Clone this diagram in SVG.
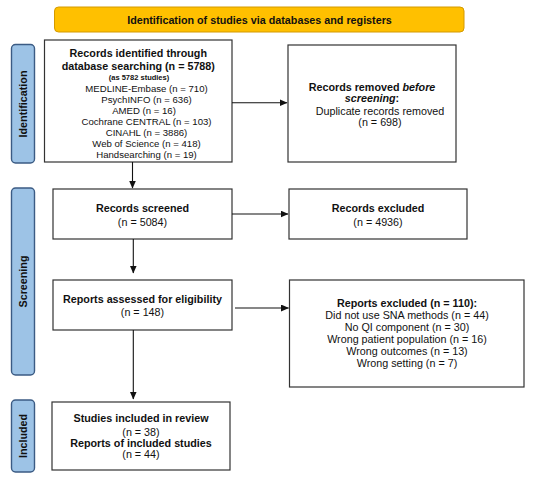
<svg xmlns="http://www.w3.org/2000/svg" width="538" height="481" viewBox="0 0 538 481">
<defs>
<marker id="ah" markerUnits="userSpaceOnUse" markerWidth="8" markerHeight="7" refX="7.5" refY="3.5" orient="auto">
<path d="M0,0 L8,3.5 L0,7 z" fill="#111"/>
</marker>
<style>
text{font-family:"Liberation Sans",Arial,sans-serif;fill:#111;font-size:10.75px;text-anchor:middle}
.b{font-weight:bold}
.s{font-size:9.6px}
.box{fill:#fff;stroke:#333;stroke-width:1.2}
.side{fill:#9DC3E6;stroke:#3B5B84;stroke-width:1.4}
.hdr{fill:#FFC000;stroke:#D49A00;stroke-width:1}
.conn{stroke:#111;stroke-width:1.1;fill:none;marker-end:url(#ah)}
</style>
</defs>
<rect width="538" height="481" fill="#fff"/>
<g id="header">
<rect class="hdr" x="54.5" y="7" width="409.5" height="25" rx="4"/>
<text class="b" x="259.5" y="24">Identification of studies via databases and registers</text>
</g>
<g id="label-identification">
<rect class="side" x="11.5" y="44.5" width="23" height="118.5" rx="4"/>
<text class="b" transform="translate(23,104) rotate(-90)" x="0" y="3.8">Identification</text>
</g>
<g id="label-screening">
<rect class="side" x="11.5" y="188" width="23" height="187" rx="4"/>
<text class="b" transform="translate(23,281.5) rotate(-90)" x="0" y="3.8">Screening</text>
</g>
<g id="label-included">
<rect class="side" x="11.5" y="400" width="23" height="72" rx="4"/>
<text class="b" transform="translate(23,436) rotate(-90)" x="0" y="3.8">Included</text>
</g>
<g id="identified">
<rect class="box" x="44.5" y="40" width="187.5" height="122"/>
<text class="b" x="138.3" y="56.8">Records identified through</text>
<text class="b" x="138.3" y="69.5">database searching (n = 5788)</text>
<text class="b" x="139" y="79.5" style="font-size:7.5px">(as 5782 studies)</text>
<text class="s" x="146.5" y="91.5">MEDLINE-Embase (n = 710)</text>
<text class="s" x="146.5" y="102.5">PsychINFO (n = 636)</text>
<text class="s" x="144" y="113.5">AMED (n = 16)</text>
<text class="s" x="146.5" y="124.5">Cochrane CENTRAL (n = 103)</text>
<text class="s" x="146.5" y="135.5">CINAHL (n = 3886)</text>
<text class="s" x="146.5" y="146.5">Web of Science (n = 418)</text>
<text class="s" x="146.5" y="157.5">Handsearching (n = 19)</text>
</g>
<g id="removed">
<rect class="box" x="288" y="45" width="168" height="117"/>
<text class="b" x="372" y="90.5">Records removed <tspan font-style="italic">before</tspan></text>
<text class="b" x="372" y="102"><tspan font-style="italic">screening</tspan>:</text>
<text x="380" y="114.7">Duplicate records removed</text>
<text x="380" y="125.5">(n = 698)</text>
</g>
<g id="screened">
<rect class="box" x="53" y="189" width="179" height="50"/>
<text class="b" x="142.5" y="212">Records screened</text>
<text x="142.5" y="225.5">(n = 5084)</text>
</g>
<g id="excluded">
<rect class="box" x="289" y="189" width="178" height="50"/>
<text class="b" x="378" y="212">Records excluded</text>
<text x="378" y="225.5">(n = 4936)</text>
</g>
<g id="assessed">
<rect class="box" x="53" y="280" width="179" height="50"/>
<text class="b" x="142.5" y="303">Reports assessed for eligibility</text>
<text x="142.5" y="316">(n = 148)</text>
</g>
<g id="reports-excluded">
<rect class="box" x="289.5" y="280" width="234.5" height="107"/>
<text class="b" x="407" y="307">Reports excluded (n = 110):</text>
<text x="407" y="319">Did not use SNA methods (n = 44)</text>
<text x="407" y="331">No QI component (n = 30)</text>
<text x="407" y="343.3">Wrong patient population (n = 16)</text>
<text x="407" y="355.3">Wrong outcomes (n = 13)</text>
<text x="407" y="367">Wrong setting (n = 7)</text>
</g>
<g id="included">
<rect class="box" x="52" y="402" width="178" height="68"/>
<text class="b" x="141" y="422">Studies included in review</text>
<text x="141" y="435.5">(n = 38)</text>
<text class="b" x="141" y="446.5">Reports of included studies</text>
<text x="141" y="458">(n = 44)</text>
</g>
<g id="connectors">
<line class="conn" x1="232" y1="102.7" x2="287" y2="102.7"/>
<line class="conn" x1="132.5" y1="162" x2="132.5" y2="188"/>
<line class="conn" x1="232" y1="214" x2="288" y2="214"/>
<line class="conn" x1="133.3" y1="239" x2="133.3" y2="273"/>
<line class="conn" x1="235" y1="308" x2="288.5" y2="308"/>
<line class="conn" x1="133.3" y1="330" x2="133.3" y2="399"/>
</g>
</svg>
